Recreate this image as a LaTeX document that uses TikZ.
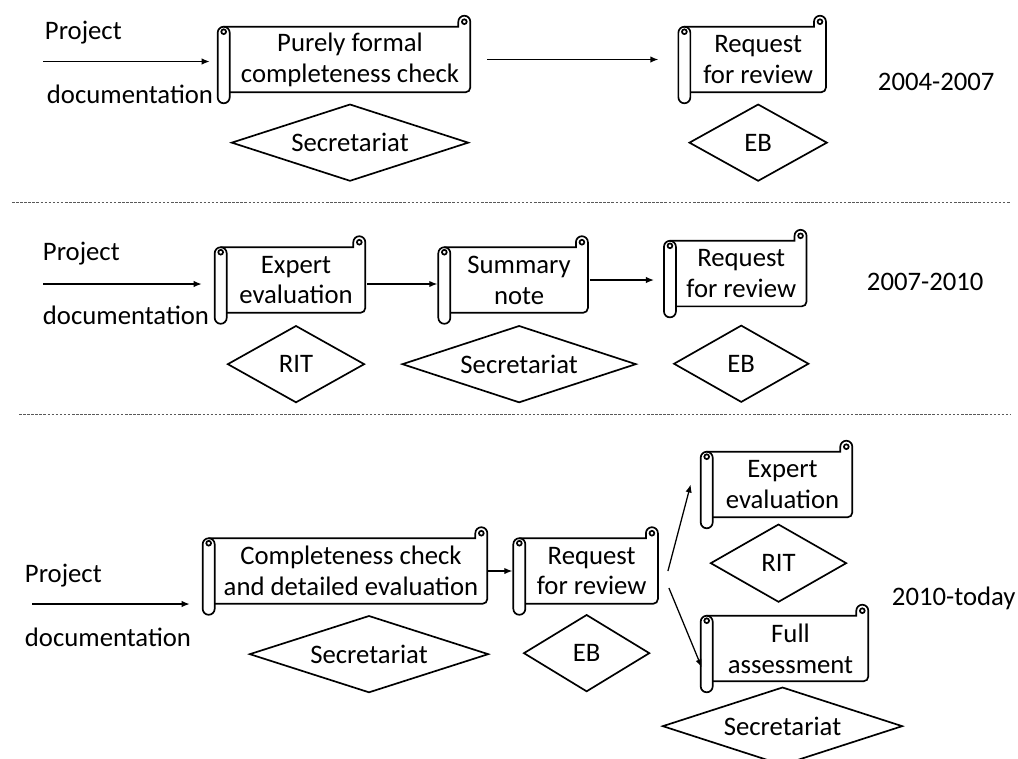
\documentclass[tikz,border=0pt]{standalone}
\usepackage{fontspec}
\setmainfont{Carlito}
\usetikzlibrary{shapes.geometric,positioning,calc,arrows.meta}

\begin{document}
\begin{tikzpicture}[x=0.025cm,y=-0.025cm,
    every node/.style={font=\fontsize{19}{22}\selectfont},
    scroll/.style={rectangle,minimum width=#1,minimum height=1.625cm,inner sep=0pt,align=center},
    scroll/.default=3.4cm,
    outline/.style={line width=1.2pt},
    decision/.style={diamond,aspect=3,draw,outline,minimum width=#1,minimum height=1.925cm,inner sep=0pt},
    decision/.default=3.4cm,
    flow/.style={line width=0.9pt,-{Latex[length=0.2cm,width=0.16cm]}},
    separator/.style={line width=0.6pt,gray!70!black,dash pattern=on 1.8pt off 1.1pt}]
  \useasboundingbox (0,0) rectangle (1018,758);

  % 2004-2007
  \node[scroll=6cm] (a1) at (350,59.5) {Purely formal\\completeness check};
  \node[scroll=3.375cm, right=5.5cm of a1] (a2) {Request\\for review};
  \node[decision=5.925cm, below=0.275cm of a1] (sec1) {Secretariat};
  \node[decision=3.45cm, below=0.275cm of a2] (eb1) {EB};
  \coordinate (in1) at (43,61.5);
  \node[anchor=base west] (prj1) at (40,39) {Project};
  \node[anchor=base west] (doc1) at (42,103) {documentation};
  \node[anchor=base west] (yr1) at (873,90) {2004-2007};
  \draw[flow, shorten >=0.5cm] (in1) -- (in1 -| a1.west);
  \draw[flow, shorten <=0.425cm, shorten >=0.8cm] (a1.east) -- (a2.west);

  \draw[separator] (12,202) -- (1010,202);

  % 2007-2010
  \node[scroll=3.45cm] (b1) at (296,280) {Expert\\evaluation};
  \node[scroll=3.425cm, right=2.125cm of b1] (b2) {Summary\\note};
  \node[scroll=3.25cm, right=2.2cm of b2, yshift=0.16cm] (b3) {Request\\for review};
  \node[decision=3.425cm, below=0.3cm of b1] (rit2) {RIT};
  \node[decision=5.85cm, below=0.3cm of b2] (sec2) {Secretariat};
  \node[decision=3.375cm, below=0.45cm of b3] (eb2) {EB};
  \coordinate (in2) at (43,284);
  \node[anchor=base west] (prj2) at (38,260) {Project};
  \node[anchor=base west] (doc2) at (38,324) {documentation};
  \node[anchor=base west] (yr2) at (862,290) {2007-2010};
  \draw[flow, shorten >=0.625cm] (in2) -- (in2 -| b1.west);
  \draw[flow, shorten <=0.05cm, shorten >=0.325cm] ([yshift=-0.1cm]b1.east) -- ([yshift=-0.1cm]b2.west);
  \draw[flow, shorten <=0.05cm, shorten >=0.55cm] (b2.east) -- (b2.east -| b3.west);

  \draw[separator] (19,414) -- (1010,414);

  % 2010-today
  \node[scroll=6.8cm] (c1) at (351,571) {Completeness check\\and detailed evaluation};
  \node[scroll=3.3cm, right=0.95cm of c1] (c2) {Request\\for review};
  \node[scroll=3.475cm] (d1) at (782.5,484.5) {Expert\\evaluation};
  \node[scroll=3.875cm] (d2) at (790.5,648.5) {Full\\assessment};
  \node[decision=5.975cm, below=0.275cm of c1, xshift=0.45cm] (sec3) {Secretariat};
  \node[decision=3.15cm, below=0.25cm of c2, xshift=-0.125cm] (eb3) {EB};
  \node[decision=3.4cm, minimum height=1.95cm, below=0.15cm of d1, xshift=-0.1cm] (rit3) {RIT};
  \node[decision=6cm, minimum height=1.95cm, below=0.125cm of d2, xshift=-0.2cm] (sec4) {Secretariat};
  \coordinate (in3) at (32,604);
  \node[anchor=base west] (prj3) at (20,582) {Project};
  \node[anchor=base west] (doc3) at (20,646) {documentation};
  \node[anchor=base west] (yr3) at (887,605) {2010-today};
  \draw[flow, shorten >=0.625cm] (in3) -- (in3 -| c1.west);
  \draw[flow, shorten <=0.025cm, shorten >=0.325cm] (c1.east) -- (c2.west);
  \draw[flow] ([xshift=0.25cm]c2.east) -- ([xshift=-0.55cm]d1.west);
  \draw[flow] ([shift={(0.275cm,-0.425cm)}]c2.east) -- ([shift={(-0.275cm,0.35cm)}]d2.south west);

  % scroll outlines
  \foreach \n in {a1,a2,b1,b2,b3,c1,c2,d1,d2}{
    \draw[outline, rounded corners=0.15cm] ($(\n.north west)+(-12,0)$) rectangle ($(\n.south west)+(0,11)$);
    \draw[outline] ($(\n.north west)+(-6,5)$) circle (0.06cm);
    \draw[outline] ($(\n.north west)+(-6,0)$) -- ($(\n.north east)+(-12,0)$) -- ++(0,-5)
      arc[start angle=180, end angle=360, radius=6] [rounded corners=0.12cm] -- (\n.south east) -- (\n.south west);
    \draw[outline] ($(\n.north east)+(-6,-5)$) circle (0.06cm);
  }
\end{tikzpicture}
\end{document}
